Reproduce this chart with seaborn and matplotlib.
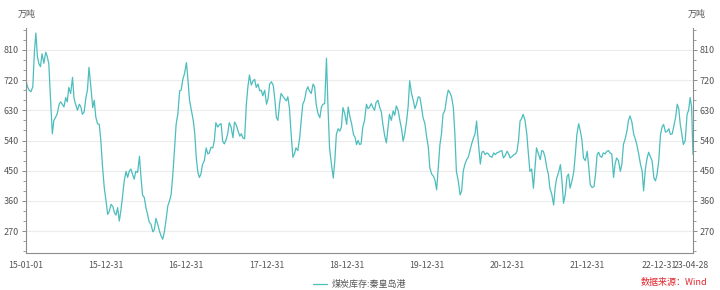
import numpy as np
import pandas as pd
import matplotlib
matplotlib.use("Agg")
import matplotlib.pyplot as plt
import matplotlib.dates as mdates
import matplotlib.transforms as mtransforms
from matplotlib.ticker import MultipleLocator
import seaborn as sns

# semi-monthly readings (万吨), 2015-01-01 .. 2023-04-15, then 2023-04-28
values = [
    720, 690, 700, 860, 768, 798, 803, 768, 560, 608,
    648, 648, 668, 698, 728, 648, 648, 618, 668, 758,
    638, 610, 588, 468, 358, 328, 343, 318, 300, 368,
    448, 448, 438, 448, 493, 378, 338, 298, 268, 308,
    268, 246, 308, 358, 448, 588, 688, 720, 772, 660,
    600, 488, 430, 468, 518, 503, 518, 593, 588, 538,
    543, 593, 548, 588, 553, 548, 648, 735, 718, 698,
    688, 673, 648, 708, 703, 608, 648, 673, 658, 638,
    490, 518, 548, 648, 688, 688, 708, 648, 608, 648,
    785, 518, 428, 558, 568, 638, 588, 613, 558, 528,
    528, 578, 648, 638, 638, 653, 638, 588, 533, 618,
    628, 643, 598, 538, 598, 718, 658, 648, 668, 608,
    548, 458, 433, 393, 528, 618, 668, 683, 638, 448,
    378, 448, 483, 508, 548, 598, 470, 508, 503, 493,
    503, 503, 508, 488, 508, 488, 498, 508, 598, 618,
    558, 448, 398, 518, 483, 508, 458, 398, 348, 428,
    468, 353, 433, 398, 448, 558, 568, 488, 508, 408,
    403, 498, 493, 503, 508, 503, 430, 488, 448, 528,
    568, 613, 558, 528, 468, 390, 488, 493, 428, 438,
    558, 588, 568, 558, 588, 648, 588, 528, 618, 668,
    498,
]
# readings in between (about one week after each reading above)
mid_values = [
    700, 685, 800, 790, 760, 770, 790, 660, 600, 620,
    655, 640, 655, 680, 665, 630, 640, 625, 690, 700,
    660, 590, 540, 400, 320, 350, 325, 340, 330, 420,
    430, 455, 425, 445, 430, 370, 320, 290, 275, 290,
    255, 270, 345, 380, 520, 620, 690, 740, 720, 630,
    560, 445, 440, 480, 500, 520, 540, 580, 590, 530,
    560, 580, 595, 570, 560, 545, 700, 705, 722, 708,
    690, 690, 665, 715, 660, 600, 680, 665, 670, 560,
    500, 510, 600, 660, 700, 680, 700, 620, 640, 650,
    640, 470, 480, 575, 580, 620, 640, 590, 550, 540,
    530, 600, 635, 650, 630, 660, 625, 555, 575, 600,
    615, 630, 575, 560, 640, 680, 635, 670, 640, 590,
    520, 440, 420, 460, 560, 630, 690, 670, 560, 420,
    390, 470, 490, 530, 560, 530, 505, 498, 500, 490,
    498, 505, 510, 495, 500, 492, 500, 540, 605, 600,
    500, 455, 460, 500, 510, 490, 440, 380, 400, 445,
    420, 380, 440, 420, 500, 590, 540, 480, 460, 400,
    440, 505, 490, 500, 510, 500, 470, 480, 470, 545,
    600, 595, 545, 500, 450, 455, 505, 480, 420, 480,
    580, 565, 575, 560, 610, 635, 560, 540, 630, 640,
]
dates = list(pd.date_range("2015-01-01", periods=200, freq="SMS")) + [pd.Timestamp("2023-04-28")]
mid_dates = [dates[k] + (dates[k + 1] - dates[k]) / 2 for k in range(len(dates) - 1)]

series_name = "煤炭库存:秦皇岛港"
y_ticks = [270, 360, 450, 540, 630, 720, 810]
x_tick_dates = ["2015-01-01", "2015-12-31", "2016-12-31", "2017-12-31", "2018-12-31",
                "2019-12-31", "2020-12-31", "2021-12-31", "2022-12-31", "2023-04-28"]
x_tick_labels = ["15-01-01", "15-12-31", "16-12-31", "17-12-31", "18-12-31",
                 "19-12-31", "20-12-31", "21-12-31", "22-12-31", "23-04-28"]

df = pd.DataFrame({"date": dates + mid_dates, "value": values + mid_values}).sort_values("date")

sns.set_theme(style="white")
plt.rcParams["font.family"] = ["Noto Sans CJK SC", "DejaVu Sans"]

line_color = "#4dbdbd"
axis_color = "#8c8c8c"
text_color = "#555555"

fig = plt.figure(figsize=(7.2, 2.9), dpi=100)
ax = fig.add_axes([26/720, 1-253/290, (693-26)/720, (253-28)/290])
sns.lineplot(data=df, x="date", y="value", ax=ax, color=line_color, linewidth=0.9, label=series_name)

ax.set_xlim(pd.Timestamp("2015-01-01"), pd.Timestamp("2023-04-28"))
ax.set_ylim(205, 875)
ax.set_xlabel("")
ax.set_ylabel("")

ax.set_yticks(y_ticks)
ax.yaxis.set_minor_locator(MultipleLocator(30))
ax.grid(axis="y", color="#ececec", linewidth=0.8)
ax.set_axisbelow(True)

ax.set_xticks(pd.to_datetime(x_tick_dates))
ax.set_xticklabels(x_tick_labels)
ax.xaxis.set_minor_locator(mdates.MonthLocator(bymonth=[1, 4, 7, 10]))

ax.spines["top"].set_visible(False)
for s in ["left", "right", "bottom"]:
    ax.spines[s].set_color(axis_color)
    ax.spines[s].set_linewidth(0.8)

ax.tick_params(axis="x", which="major", direction="out", length=4, width=0.7, color=axis_color,
               labelsize=6.3, labelcolor=text_color, pad=2)
ax.tick_params(axis="x", which="minor", direction="out", length=2.5, width=0.6, color=axis_color)
ax.tick_params(axis="y", which="major", direction="out", length=3, width=0.7, color=axis_color,
               labelsize=6.5, labelcolor=text_color, left=True, right=True, labelleft=True, labelright=True, pad=2)
ax.tick_params(axis="y", which="minor", direction="out", length=2, width=0.6, color=axis_color,
               left=True, right=True)

# nudge the last two crowded date labels apart
xlabels = ax.get_xticklabels()
shift_a = mtransforms.ScaledTranslation(-8/100, 0, fig.dpi_scale_trans)
shift_b = mtransforms.ScaledTranslation(-2/100, 0, fig.dpi_scale_trans)
xlabels[-2].set_transform(xlabels[-2].get_transform() + shift_a)
xlabels[-1].set_transform(xlabels[-1].get_transform() + shift_b)

fig.text(18/720, 1-14/290, "万吨", fontsize=6.5, color=text_color, ha="left", va="center")
fig.text(688/720, 1-14/290, "万吨", fontsize=6.5, color=text_color, ha="left", va="center")

leg = ax.legend(loc="upper center", bbox_to_anchor=(0.5, -0.105), frameon=False, fontsize=6.5,
                handlelength=1.6, handletextpad=0.5, borderaxespad=0)
for t in leg.get_texts():
    t.set_color(text_color)

fig.text(707/720, 1-283/290, "数据来源：Wind", fontsize=6.5, color="#e0282e", ha="right", va="center")

fig.savefig("out.png", dpi=100)
